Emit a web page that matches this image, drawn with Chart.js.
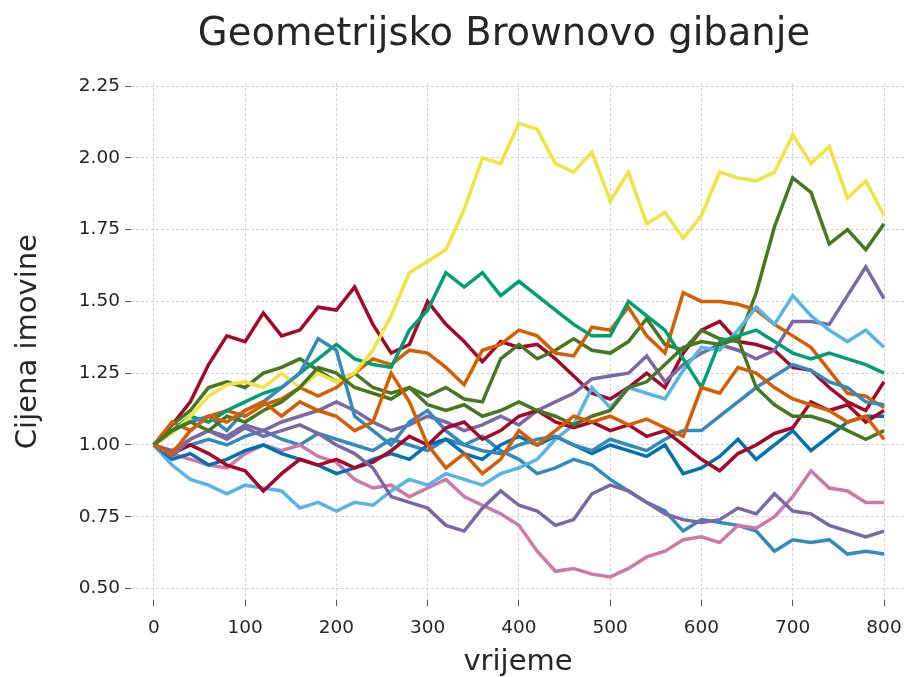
<!DOCTYPE html>
<html lang="hr">
<head>
<meta charset="utf-8">
<title>Geometrijsko Brownovo gibanje</title>
<script src="https://cdn.jsdelivr.net/npm/chart.js@4.4.1/dist/chart.umd.min.js"></script>
<style>
  html, body { margin: 0; padding: 0; background: #fff; }
  #grafikon { display: block; }
</style>
</head>
<body>
<canvas id="grafikon" width="907" height="677"></canvas>
<script>
// Vremenski koraci (svakih 20) i oznake osi
const vrijeme = [0, 20, 40, 60, 80, 100, 120, 140, 160, 180, 200, 220, 240, 260, 280, 300, 320, 340, 360, 380,
    400, 420, 440, 460, 480, 500, 520, 540, 560, 580, 600, 620, 640, 660, 680, 700, 720, 740, 760, 780, 800];
const xOznake = [0, 100, 200, 300, 400, 500, 600, 700, 800];
const yOznake = [0.5, 0.75, 1.0, 1.25, 1.5, 1.75, 2.0, 2.25];

// bmh paleta
const boje = ['#348ABD', '#A60628', '#7A68A6', '#467821', '#D55E00', '#CC79A7', '#56B4E9', '#009E73', '#F0E442', '#0072B2'];

// Putanje cijene, očitane sa slike
const put1 = [1.00, 0.97, 1.00, 1.02, 1.00, 1.03, 1.05, 1.02, 1.00, 1.04, 1.02, 1.00, 0.98, 1.02, 1.00, 0.98, 1.02, 1.00, 1.03, 0.98,
    0.95, 0.90, 0.92, 0.95, 0.93, 0.88, 0.84, 0.80, 0.77, 0.70, 0.74, 0.73, 0.72, 0.70, 0.63, 0.67, 0.66, 0.67, 0.62, 0.63, 0.62];
const put2 = [1.00, 1.07, 1.15, 1.28, 1.38, 1.36, 1.46, 1.38, 1.40, 1.48, 1.47, 1.55, 1.42, 1.32, 1.35, 1.50, 1.42, 1.36, 1.29, 1.36,
    1.34, 1.35, 1.30, 1.24, 1.18, 1.16, 1.20, 1.25, 1.20, 1.32, 1.40, 1.43, 1.36, 1.35, 1.33, 1.27, 1.26, 1.20, 1.15, 1.12, 1.22];
const put3 = [1.00, 0.98, 1.02, 1.05, 1.03, 1.07, 1.05, 1.08, 1.10, 1.12, 1.15, 1.12, 1.08, 1.05, 1.07, 1.10, 1.08, 1.05, 1.07, 1.10,
    1.07, 1.12, 1.15, 1.18, 1.23, 1.24, 1.25, 1.31, 1.22, 1.28, 1.32, 1.35, 1.33, 1.30, 1.33, 1.43, 1.43, 1.42, 1.52, 1.62, 1.51];
const put4 = [1.00, 1.07, 1.12, 1.20, 1.22, 1.20, 1.25, 1.27, 1.30, 1.26, 1.22, 1.25, 1.20, 1.18, 1.20, 1.17, 1.20, 1.16, 1.15, 1.30,
    1.35, 1.30, 1.33, 1.37, 1.33, 1.32, 1.36, 1.44, 1.35, 1.33, 1.40, 1.37, 1.36, 1.53, 1.76, 1.93, 1.88, 1.70, 1.75, 1.68, 1.77];
const put5 = [1.00, 1.08, 1.05, 1.10, 1.12, 1.10, 1.14, 1.16, 1.20, 1.17, 1.20, 1.25, 1.30, 1.28, 1.33, 1.32, 1.27, 1.21, 1.33, 1.35,
    1.40, 1.38, 1.32, 1.31, 1.41, 1.40, 1.48, 1.38, 1.32, 1.53, 1.50, 1.50, 1.49, 1.47, 1.42, 1.38, 1.34, 1.26, 1.18, 1.17, 1.13];
const put6 = [1.00, 0.97, 0.95, 0.93, 0.92, 0.97, 1.00, 0.98, 1.00, 0.96, 0.94, 0.88, 0.85, 0.86, 0.82, 0.85, 0.88, 0.82, 0.79, 0.76,
    0.72, 0.63, 0.56, 0.57, 0.55, 0.54, 0.57, 0.61, 0.63, 0.67, 0.68, 0.66, 0.72, 0.71, 0.75, 0.82, 0.91, 0.85, 0.84, 0.80, 0.80];
const put7 = [1.00, 0.93, 0.88, 0.86, 0.83, 0.86, 0.85, 0.84, 0.78, 0.80, 0.77, 0.80, 0.79, 0.84, 0.88, 0.86, 0.90, 0.88, 0.86, 0.90,
    0.92, 0.95, 1.02, 1.07, 1.20, 1.13, 1.20, 1.18, 1.16, 1.26, 1.34, 1.33, 1.40, 1.48, 1.42, 1.52, 1.45, 1.40, 1.36, 1.40, 1.34];
const put8 = [1.00, 1.05, 1.10, 1.08, 1.12, 1.15, 1.18, 1.20, 1.25, 1.30, 1.35, 1.30, 1.28, 1.27, 1.40, 1.47, 1.60, 1.55, 1.60, 1.52,
    1.57, 1.52, 1.47, 1.42, 1.38, 1.38, 1.50, 1.45, 1.40, 1.30, 1.20, 1.36, 1.38, 1.40, 1.36, 1.32, 1.30, 1.32, 1.30, 1.28, 1.25];
const put9 = [1.00, 1.04, 1.10, 1.17, 1.21, 1.22, 1.20, 1.25, 1.20, 1.25, 1.22, 1.25, 1.33, 1.45, 1.60, 1.64, 1.68, 1.82, 2.00, 1.98,
    2.12, 2.10, 1.98, 1.95, 2.02, 1.85, 1.95, 1.77, 1.81, 1.72, 1.80, 1.95, 1.93, 1.92, 1.95, 2.08, 1.98, 2.04, 1.86, 1.92, 1.80];
const put10 = [1.00, 0.95, 0.97, 0.93, 0.95, 0.98, 1.00, 0.97, 0.95, 0.93, 0.90, 0.92, 0.95, 0.97, 0.95, 1.00, 1.02, 0.97, 0.95, 1.00,
    1.03, 1.00, 1.03, 1.00, 0.97, 1.00, 0.98, 0.96, 1.00, 0.90, 0.92, 0.96, 1.02, 0.95, 1.00, 1.05, 0.98, 1.03, 1.08, 1.10, 1.10];
const put11 = [1.00, 1.05, 1.08, 1.10, 1.05, 1.12, 1.15, 1.20, 1.25, 1.37, 1.33, 1.10, 1.05, 1.00, 1.08, 1.12, 1.05, 1.00, 0.98, 0.97,
    1.00, 1.02, 1.03, 1.00, 0.98, 1.02, 1.00, 0.98, 1.02, 1.05, 1.05, 1.10, 1.15, 1.20, 1.24, 1.28, 1.26, 1.22, 1.20, 1.15, 1.14];
const put12 = [1.00, 0.97, 1.00, 0.97, 0.93, 0.91, 0.84, 0.90, 0.95, 0.93, 0.95, 0.92, 0.94, 0.98, 1.03, 1.00, 1.06, 1.08, 1.02, 1.05,
    1.10, 1.12, 1.08, 1.06, 1.08, 1.05, 1.07, 1.03, 1.05, 1.00, 0.95, 0.91, 0.97, 1.00, 1.04, 1.06, 1.15, 1.12, 1.14, 1.08, 1.12];
const put13 = [1.00, 0.96, 1.02, 1.05, 1.02, 1.06, 1.03, 1.05, 1.07, 1.04, 1.00, 0.97, 0.92, 0.82, 0.80, 0.78, 0.72, 0.70, 0.78, 0.84,
    0.79, 0.77, 0.72, 0.74, 0.83, 0.86, 0.84, 0.80, 0.76, 0.74, 0.73, 0.74, 0.78, 0.76, 0.83, 0.77, 0.76, 0.72, 0.70, 0.68, 0.70];
const put14 = [1.00, 1.05, 1.08, 1.05, 1.10, 1.08, 1.12, 1.15, 1.20, 1.27, 1.25, 1.20, 1.18, 1.16, 1.20, 1.14, 1.12, 1.14, 1.10, 1.12,
    1.15, 1.12, 1.10, 1.07, 1.10, 1.12, 1.20, 1.22, 1.28, 1.34, 1.36, 1.35, 1.37, 1.20, 1.14, 1.10, 1.10, 1.08, 1.05, 1.02, 1.05];
const put15 = [1.00, 0.97, 1.05, 1.10, 1.08, 1.12, 1.15, 1.10, 1.15, 1.12, 1.10, 1.05, 1.08, 1.25, 1.15, 1.00, 0.92, 0.97, 0.90, 0.95,
    1.05, 1.00, 1.05, 1.10, 1.08, 1.10, 1.07, 1.09, 1.06, 1.03, 1.20, 1.18, 1.27, 1.25, 1.20, 1.16, 1.14, 1.12, 1.08, 1.10, 1.02];
const putevi = [put1, put2, put3, put4, put5, put6, put7, put8, put9, put10, put11, put12, put13, put14, put15];

Chart.defaults.font.family = "'DejaVu Sans', sans-serif";
Chart.defaults.color = '#262626';

// Skupovi podataka: kasnije putanje crtaju se iznad ranijih
const skupovi = putevi.map((put, i) => ({
    data: put.map((v, j) => ({ x: vrijeme[j], y: v })),
    borderColor: boje[i % boje.length],
    borderWidth: 3.5,
    pointRadius: 0,
    tension: 0,
    order: putevi.length - i
}));

const mreza = { color: '#c8c8c8', lineWidth: 0.8, tickLength: 6, tickColor: '#555555', tickWidth: 1 };
const rub = { display: false, dash: [3, 2] };

// Naslov malo ulijevo od sredine područja crtanja
const pomakNaslova = {
    id: 'pomakNaslova',
    afterLayout: chart => { chart.titleBlock.left -= 28; }
};

new Chart(document.getElementById('grafikon'), {
    type: 'line',
    data: { datasets: skupovi },
    plugins: [pomakNaslova],
    options: {
        responsive: false,
        animation: false,
        devicePixelRatio: 1,
        layout: { padding: { left: 0, right: 2, top: 0, bottom: 0 } },
        plugins: {
            legend: { display: false },
            tooltip: { enabled: false },
            title: {
                display: true,
                fullSize: false,
                text: 'Geometrijsko Brownovo gibanje',
                font: { size: 38.5, weight: 'normal' },
                color: '#262626',
                padding: { top: 12, bottom: 25 }
            }
        },
        scales: {
            x: {
                type: 'linear',
                min: -25,
                max: 823,
                afterBuildTicks: s => { s.ticks = xOznake.map(v => ({ value: v })); },
                afterFit: s => { s.height = 77; s.paddingLeft = 0; s.paddingRight = 0; },
                ticks: { font: { size: 18.5 }, padding: 11, maxRotation: 0, autoSkip: false },
                grid: mreza,
                border: rub,
                title: { display: true, text: 'vrijeme', font: { size: 29 }, padding: { top: 0, bottom: -3 } }
            },
            y: {
                min: 0.46,
                max: 2.26,
                afterBuildTicks: s => { s.ticks = yOznake.map(v => ({ value: v })); },
                afterFit: s => { s.width = 131; s.paddingTop = 0; s.paddingBottom = 0; },
                ticks: { font: { size: 18.5 }, padding: 5, callback: v => v.toFixed(2) },
                grid: mreza,
                border: rub,
                title: { display: true, text: 'Cijena imovine', font: { size: 29 }, padding: { top: 11, bottom: 0 } }
            }
        }
    }
});
</script>
</body>
</html>
